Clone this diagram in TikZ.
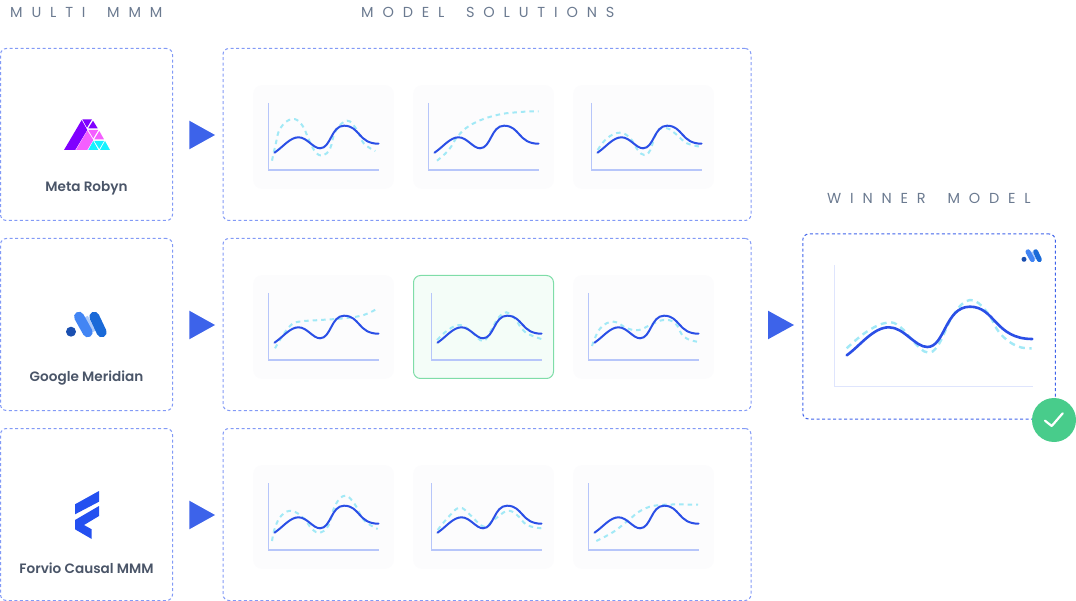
\documentclass[tikz,border=0pt]{standalone}
\usepackage{fontspec}
\setmainfont{Poppins}
\newfontfamily\headfont[LetterSpace=61]{Poppins}
\newfontfamily\namefont{Poppins SemiBold}
\usetikzlibrary{positioning,calc}
\definecolor{dashblue}{HTML}{829AF6}
\definecolor{winblue}{HTML}{3F63EA}
\definecolor{arrowblue}{HTML}{3D63EA}
\definecolor{curveblue}{HTML}{2B4FE6}
\definecolor{fitcyan}{HTML}{A2E9F6}
\definecolor{axisblue}{HTML}{B7C6FA}
\definecolor{panelgrey}{HTML}{FCFCFD}
\definecolor{goodfill}{HTML}{F4FDF8}
\definecolor{goodline}{HTML}{7FDDA8}
\definecolor{checkgreen}{HTML}{48CC8B}
\definecolor{headgrey}{HTML}{6B7A90}
\definecolor{namegrey}{HTML}{4A5568}
\definecolor{robynpurple}{HTML}{8000FF}
\definecolor{robynpink}{HTML}{F45FFF}
\definecolor{robyncyan}{HTML}{16F2FF}
\definecolor{forvioblue}{HTML}{2450F0}
\definecolor{meridiandot}{HTML}{1A4FB0}
\definecolor{meridianmid}{HTML}{4285F4}
\definecolor{meridianlight}{HTML}{AECBFA}
\definecolor{meridianbar}{HTML}{1A6AD8}
\tikzset{
  toolbox/.style={draw=dashblue,line width=1pt,dash pattern=on 3pt off 2.5pt,rounded corners=6pt,minimum width=172pt,minimum height=172pt,inner sep=0pt},
  runbox/.style={toolbox,minimum width=528pt},
  winbox/.style={toolbox,draw=winblue,minimum width=252.5pt,minimum height=185pt},
  panelbox/.style={fill=panelgrey,rounded corners=9pt,minimum width=141pt,minimum height=104pt,inner sep=0pt},
  goodbox/.style={panelbox,fill=goodfill,draw=goodline,line width=1pt,rounded corners=7pt,minimum width=140pt,minimum height=103pt},
  heading/.style={font=\headfont\fontsize{14.5}{16}\selectfont,text=headgrey,inner sep=0pt},
  toolname/.style={font=\namefont\fontsize{13.6}{16}\selectfont,text=namegrey,inner sep=0pt},
  playtip/.style={fill=arrowblue},
  axisline/.style={draw=axisblue,line width=1.1pt},
  bestfit/.style={draw=curveblue,line width=2pt,line cap=round},
  trial/.style={draw=fitcyan,line width=2pt,dash pattern=on 4.5pt off 4pt}
}
% panel name, left, top, axis offset, dashed curve
\newcommand*{\fitchart}[6][panelbox]{
  \begin{scope}[shift={(#3,#4)}]
    \node[#1] (#2) at (70.5,52) {};
    \draw[trial] plot[smooth,tension=.7] coordinates {#6};
    \begin{scope}[xshift=#5pt]
      \draw[axisline] (15.5,18) -- (15.5,85) -- (126,85);
      \draw[bestfit] (21.5,67.7) .. controls (30,62) and (37,52.3) .. (45.5,52.3) .. controls (54,52.3) and (60,63.3) .. (67,63.3) .. controls (78,63.3) and (78,40.7) .. (91,40.7) .. controls (107,40.7) and (105,58.7) .. (125.5,58.7);
    \end{scope}
  \end{scope}
}
\newcommand*{\meridianlogo}[3]{
  \begin{scope}[shift={(#1,#2)},scale=#3]
    \draw[line width={4*#3},meridianlight] (15,-15) -- (22.5,0);
    \fill[meridiandot] (0,0) circle (5);
    \draw[line width={10*#3},line cap=round,meridianmid] (8,-15) -- (16.7,0.6);
    \draw[line width={10*#3},line cap=round,meridianbar] (23.3,-15) -- (30.7,0.6);
  \end{scope}
}
\begin{document}
\begin{tikzpicture}[x=1pt,y=-1pt]
\useasboundingbox (0,0) rectangle (1076,601);
% Column headings
\node[heading,anchor=west] (multihead) at (10,12.5) {MULTI\hspace{9pt} MMM};
\node[heading,anchor=west] (modelhead) at (361,12.5) {MODEL\hspace{9pt} SOLUTIONS};
\node[heading,anchor=west] (winnerhead) at (827,198) {WINNER\hspace{9pt} MODEL};
% Tool boxes
\node[toolbox] (robynbox) at (86.5,134.5) {};
\node[toolbox] (meridianbox) at (86.5,324.5) {};
\node[toolbox] (forviobox) at (86.5,514.5) {};
\node[toolname] (robynname) at (86.5,188.5) {Meta Robyn};
\node[toolname] (meridianname) at (86.5,378.5) {Google Meridian};
\node[toolname] (forvioname) at (86.5,568.5) {Forvio Causal MMM};
% Robyn logo
\fill[robynpurple] (64,150) -- (75.3,150) -- (87.3,130) -- (81.7,120) -- cycle;
\fill[robynpurple] (82.3,119.3) -- (92,119.3) -- (87,127.7) -- cycle;
\fill[robynpurple] (88.3,128.3) -- (93,120.7) -- (97.7,128.3) -- cycle;
\fill[robynpink] (76,150) -- (87.3,150) -- (93.3,140) -- (87.3,130.5) -- cycle;
\fill[robynpink] (88.3,130) -- (98.3,130) -- (93.3,138.3) -- cycle;
\fill[robynpink] (94.3,139.3) -- (99.3,131) -- (104,139.3) -- cycle;
\fill[robyncyan] (94.3,141) -- (104,141) -- (99.3,149) -- cycle;
\fill[robyncyan] (88.3,150) -- (93.3,141) -- (98.3,150) -- cycle;
\fill[robyncyan] (100,150) -- (105,141) -- (110,150) -- cycle;
% Meridian logo
\meridianlogo{71}{331.7}{1}
% Forvio logo
\fill[forvioblue] (75,504.3) -- (99,491) -- (99,501.7) -- (75,514.3) -- cycle;
\fill[forvioblue] (99,506) -- (99,516) -- (84,525) -- (91.7,529.3) -- (91.7,539) -- (75,529.3) -- (75,520) -- cycle;
% Arrows into the solutions
\fill[playtip] (189.3,120.7) -- (215,135) -- (189.3,149.3) -- cycle;
\fill[playtip] (189.3,310.7) -- (215,325) -- (189.3,339.3) -- cycle;
\fill[playtip] (189.3,500.7) -- (215,515) -- (189.3,529.3) -- cycle;
% Solution boxes
\node[runbox] (robynruns) at (487,134.5) {};
\node[runbox] (meridianruns) at (487,324.5) {};
\node[runbox] (forvioruns) at (487,514.5) {};
% First row
\fitchart{chartaa}{253}{85}{0}{(19,75.7) (22.5,60) (27.3,43.3) (39,34) (49,40) (56,55) (62.5,67) (70,70.5) (77.3,63) (82.3,46.7) (94,35.7) (104,45) (110.7,58.3) (122.3,66)}
\fitchart{chartab}{413}{85}{0}{(24,75.7) (35.7,65) (45.7,50) (60.7,38.3) (84,30) (107.3,27) (125.7,26.3)}
\fitchart{chartac}{573}{85}{3}{(24.7,65) (34,53.3) (46.7,47.7) (57.3,53.3) (64.7,65) (71.3,70) (77.3,65) (84,46.7) (94,43.3) (104,50) (114,58.3) (129,62)}
% Second row
\fitchart{chartba}{253}{275}{0}{(22,73.3) (29,61.7) (37.3,50.7) (45.7,46.7) (67.3,45) (90.7,43.3) (110.7,40) (124.7,33.3)}
\fitchart[goodbox]{chartbb}{413}{275}{3}{(24,65) (35,55) (47.3,50) (58.3,56.7) (70,66) (78.3,55) (85,43.3) (93.3,37.3) (101.7,43.3) (111.7,56.7) (128.3,64)}
\fitchart{chartbc}{573}{275}{0}{(19,71) (27.3,53.3) (40.7,46.7) (54,53.3) (65.7,55) (77.3,50) (90.7,45) (102.3,48.3) (110.7,61.7) (124,66.7)}
% Third row
\fitchart{chartca}{253}{465}{0}{(19,76) (22.3,61.7) (29,50) (39,46) (50.7,53.3) (59,64) (67.3,67.7) (75.7,60) (82.3,40) (92.3,30.7) (102.3,40) (110.7,55) (124.7,64)}
\fitchart{chartcb}{413}{465}{3}{(24.7,65) (35.7,51.7) (46.7,42.7) (57.3,50) (70.7,61.7) (80.7,55) (94,46) (104,50) (114,60) (128.3,63.3)}
\fitchart{chartcc}{573}{465}{0}{(23.3,76) (40.7,66.7) (55.7,55) (69,45) (87.3,40) (125,39.7)}
% Arrow to the winner
\fill[playtip] (768,310.7) -- (794,325) -- (768,339.3) -- cycle;
% Winner box and its chart
\node[winbox] (winner) at (929,326.5) {};
\draw[draw=axisblue!45,line width=1.5pt] (834.7,265) -- (834.7,386.7) -- (1033,386.7);
\draw[trial,line width=2.4pt,dash pattern=on 6pt off 4.5pt] plot[smooth,tension=.7] coordinates {(846.7,348.3) (866.7,331.7) (886.7,322.7) (900,326.7) (915,343.3) (927.3,352.3) (938.3,345) (953.3,315) (970,300) (986.7,311.7) (1000,333.3) (1016.7,346) (1031.7,348.3)};
\draw[bestfit,line width=2.6pt] (846.7,355.3) .. controls (860,346) and (873,327.3) .. (889,327.3) .. controls (904,327.3) and (915,347) .. (927.3,347) .. controls (945,347) and (945,306.7) .. (970,306.7) .. controls (995,306.7) and (995,339) .. (1032.3,339);
\meridianlogo{1024}{259.3}{.5}
% Check mark
\node[circle,fill=checkgreen,minimum size=44pt,inner sep=0pt] (winbadge) at (1054,420) {};
\draw[white,line width=2.2pt,line cap=round,line join=round] (1045,420.7) -- (1051.7,426) -- (1062.7,413.3);
\end{tikzpicture}
\end{document}
